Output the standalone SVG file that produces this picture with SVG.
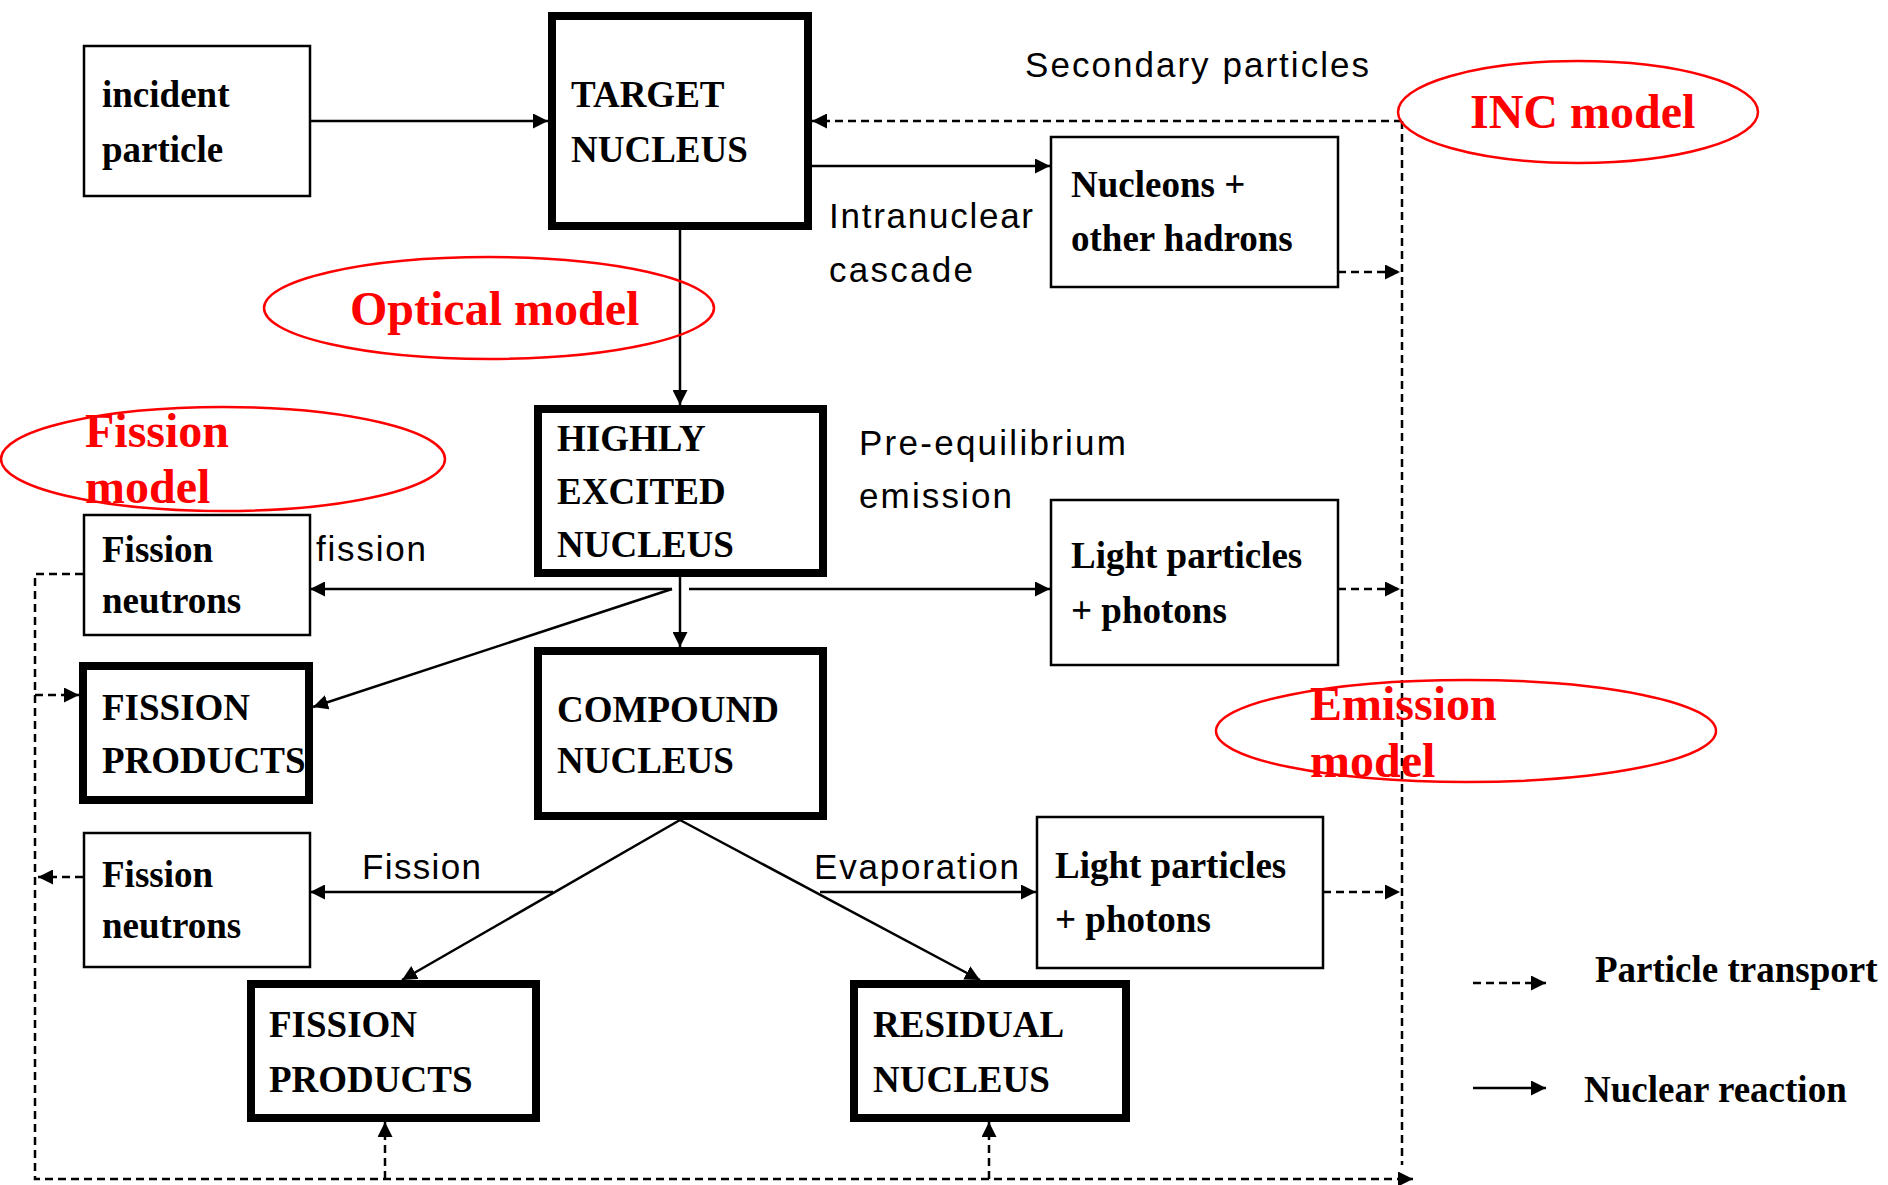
<svg xmlns="http://www.w3.org/2000/svg" width="1888" height="1185" viewBox="0 0 1888 1185">
  <style>
    .box { fill: #fff; stroke: #000; stroke-width: 2.5; }
    .thick { fill: #fff; stroke: #000; stroke-width: 8; }
    .lbl { font-family: "Liberation Serif", "Times New Roman", serif; font-weight: bold; font-size: 37px; fill: #000; }
    .edge { font-family: "Liberation Sans", Arial, sans-serif; font-size: 35px; fill: #000; }
    .model { font-family: "Liberation Serif", "Times New Roman", serif; font-weight: bold; font-size: 48px; fill: #ff0000; }
    .oval { fill: none; stroke: #ff0000; stroke-width: 2.5; }
    .solid { fill: none; stroke: #000; stroke-width: 2.5; marker-end: url(#head); }
    .dash { fill: none; stroke: #000; stroke-width: 2.5; stroke-dasharray: 8 5; }
    .dashA { fill: none; stroke: #000; stroke-width: 2.5; stroke-dasharray: 8 5; marker-end: url(#head); }
  </style>
  <defs>
    <marker id="head" markerUnits="userSpaceOnUse" markerWidth="16" markerHeight="15" refX="15" refY="7.5" orient="auto">
      <path d="M0,0 L15,7.5 L0,15 z" fill="#000"/>
    </marker>
  </defs>

  <rect width="1888" height="1185" fill="#fff"/>

  <!-- nodes -->
  <g id="incident-particle">
    <rect class="box" x="84" y="46" width="226" height="150"/>
    <text class="lbl" x="102" y="107">incident</text>
    <text class="lbl" x="102" y="162">particle</text>
  </g>
  <g id="target-nucleus">
    <rect class="thick" x="552" y="16" width="256" height="210"/>
    <text class="lbl" x="571" y="107">TARGET</text>
    <text class="lbl" x="571" y="162">NUCLEUS</text>
  </g>
  <g id="nucleons-hadrons">
    <rect class="box" x="1051" y="137" width="287" height="150"/>
    <text class="lbl" x="1071" y="197">Nucleons +</text>
    <text class="lbl" x="1071" y="251">other hadrons</text>
  </g>
  <g id="highly-excited-nucleus">
    <rect class="thick" x="538" y="409" width="285" height="164"/>
    <text class="lbl" x="557" y="451">HIGHLY</text>
    <text class="lbl" x="557" y="504">EXCITED</text>
    <text class="lbl" x="557" y="557">NUCLEUS</text>
  </g>
  <g id="fission-neutrons-1">
    <rect class="box" x="84" y="515" width="226" height="120"/>
    <text class="lbl" x="102" y="562">Fission</text>
    <text class="lbl" x="102" y="613">neutrons</text>
  </g>
  <g id="light-particles-1">
    <rect class="box" x="1051" y="500" width="287" height="165"/>
    <text class="lbl" x="1071" y="568">Light particles</text>
    <text class="lbl" x="1071" y="623">+ photons</text>
  </g>
  <g id="fission-products-1">
    <rect class="thick" x="83" y="666" width="226" height="134"/>
    <text class="lbl" x="102" y="720">FISSION</text>
    <text class="lbl" x="102" y="773">PRODUCTS</text>
  </g>
  <g id="compound-nucleus">
    <rect class="thick" x="538" y="651" width="285" height="165"/>
    <text class="lbl" x="557" y="722">COMPOUND</text>
    <text class="lbl" x="557" y="773">NUCLEUS</text>
  </g>
  <g id="fission-neutrons-2">
    <rect class="box" x="84" y="833" width="226" height="134"/>
    <text class="lbl" x="102" y="887">Fission</text>
    <text class="lbl" x="102" y="938">neutrons</text>
  </g>
  <g id="light-particles-2">
    <rect class="box" x="1037" y="817" width="286" height="151"/>
    <text class="lbl" x="1055" y="878">Light particles</text>
    <text class="lbl" x="1055" y="932">+ photons</text>
  </g>
  <g id="fission-products-2">
    <rect class="thick" x="251" y="984" width="285" height="134"/>
    <text class="lbl" x="269" y="1037">FISSION</text>
    <text class="lbl" x="269" y="1092">PRODUCTS</text>
  </g>
  <g id="residual-nucleus">
    <rect class="thick" x="854" y="984" width="272" height="134"/>
    <text class="lbl" x="873" y="1037">RESIDUAL</text>
    <text class="lbl" x="873" y="1092">NUCLEUS</text>
  </g>

  <!-- connectors -->
  <g id="connectors">
    <!-- nuclear reactions -->
    <path class="solid" d="M310,121 H548"/>
    <path class="solid" d="M812,166 H1050"/>
    <path class="solid" d="M680,230 V405"/>
    <path class="solid" d="M672,589 H310"/>
    <path class="solid" d="M689,589 H1050"/>
    <path class="solid" d="M680,577 V647"/>
    <path class="solid" d="M672,589 L313,707"/>
    <path class="solid" d="M680,820 L402,980"/>
    <path class="solid" d="M680,820 L980,980"/>
    <path class="solid" d="M553,892 H310"/>
    <path class="solid" d="M820,892 H1036"/>
    <!-- particle transport -->
    <path class="dashA" d="M1402,121 H812"/>
    <path class="dash" d="M1402,121 V1165"/>
    <path class="dashA" d="M1338,272 H1400"/>
    <path class="dashA" d="M1338,589 H1400"/>
    <path class="dashA" d="M1323,892 H1400"/>
    <path class="dashA" d="M83,574 H35 V1179 H1413"/>
    <path class="dashA" d="M35,695 H79"/>
    <path class="dashA" d="M83,877 H38"/>
    <path class="dashA" d="M385,1179 V1122"/>
    <path class="dashA" d="M989,1179 V1122"/>

    <text class="edge" x="1025" y="77" textLength="344">Secondary particles</text>
    <text class="edge" x="829" y="228" textLength="204">Intranuclear</text>
    <text class="edge" x="829" y="282" textLength="144">cascade</text>
    <text class="edge" x="859" y="455" textLength="267">Pre-equilibrium</text>
    <text class="edge" x="859" y="508" textLength="153">emission</text>
    <text class="edge" x="316" y="561" textLength="110">fission</text>
    <text class="edge" x="362" y="879" textLength="119">Fission</text>
    <text class="edge" x="814" y="879" textLength="205">Evaporation</text>
  </g>

  <!-- model annotations -->
  <g id="inc-model">
    <ellipse class="oval" cx="1578" cy="112" rx="180" ry="51"/>
    <text class="model" x="1470" y="128">INC model</text>
  </g>
  <g id="optical-model">
    <ellipse class="oval" cx="489" cy="308" rx="225" ry="51"/>
    <text class="model" x="350" y="325">Optical model</text>
  </g>
  <g id="fission-model">
    <ellipse class="oval" cx="223" cy="459" rx="222" ry="52"/>
    <text class="model" x="85" y="447">Fission</text>
    <text class="model" x="85" y="503">model</text>
  </g>
  <g id="emission-model">
    <ellipse class="oval" cx="1466" cy="731" rx="250" ry="51"/>
    <text class="model" x="1310" y="720">Emission</text>
    <text class="model" x="1310" y="777">model</text>
  </g>

  <!-- legend -->
  <g id="legend">
    <path class="dashA" d="M1473,983 H1546"/>
    <text class="lbl" x="1595" y="982">Particle transport</text>
    <path class="solid" d="M1473,1088 H1546"/>
    <text class="lbl" x="1584" y="1102">Nuclear reaction</text>
  </g>
</svg>
